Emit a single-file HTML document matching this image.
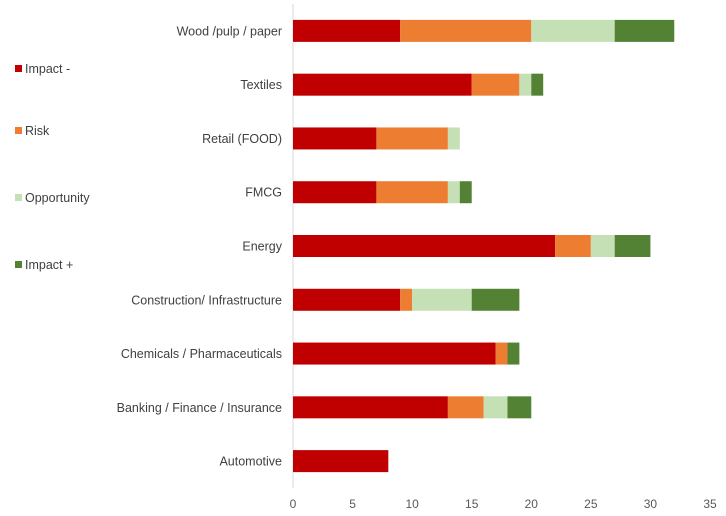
<!DOCTYPE html>
<html><head><meta charset="utf-8"><style>
html,body{margin:0;padding:0;background:#fff;}
svg{display:block;font-family:"Liberation Sans",sans-serif;}
</style></head><body>
<svg id="chart" width="726" height="516" viewBox="0 0 726 516"></svg>
<script>
const categories=["Wood /pulp / paper","Textiles","Retail (FOOD)","FMCG","Energy","Construction/ Infrastructure","Chemicals / Pharmaceuticals","Banking / Finance / Insurance","Automotive"];
const impactNeg=[9,15,7,7,22,9,17,13,8];
const risk=[11,4,6,6,3,1,1,3,0];
const opportunity=[7,1,1,1,2,5,0,2,0];
const impactPos=[5,1,0,1,3,4,1,2,0];
const xTicks=[0,5,10,15,20,25,30,35];
const seriesNames=["Impact -","Risk","Opportunity","Impact +"];
const colors=["#C00000","#ED7D31","#C5E0B4","#548235"];
const series=[impactNeg,risk,opportunity,impactPos];
const NS="http://www.w3.org/2000/svg";
const svgEl=document.getElementById('chart');
const x0=293,x1=710,yTop=4,yBottom=488;
const xs=v=>x0+v*(x1-x0)/35;
const band=(yBottom-yTop)/categories.length;
const yc=i=>yTop+band*(i+0.5);
const barH=22;
function el(t,a){const e=document.createElementNS(NS,t);for(const k in a)e.setAttribute(k,a[k]);svgEl.appendChild(e);return e;}
const ax=el('line',{x1:x0,x2:x0,y1:yTop,y2:yBottom,stroke:'#d9d9d9','stroke-width':1});


xTicks.forEach(t=>{const e=el('text',{x:xs(t),y:508,'text-anchor':'middle','font-size':12,fill:'#595959'});e.textContent=t;

});
categories.forEach((c,i)=>{
const e=el('text',{x:282,y:yc(i)+4.5,'text-anchor':'end','font-size':12.5,fill:'#404040'});e.textContent=c;


let acc=0;
series.forEach((s,k)=>{const v=s[i];if(v>0){const r=el('rect',{x:xs(acc),y:yc(i)-barH/2,width:xs(acc+v)-xs(acc),height:barH,fill:colors[k]});

}acc+=v;});
});
const ly=[69,131,198,265];
seriesNames.forEach((n,k)=>{
const r=el('rect',{x:15,y:ly[k]-4,width:7,height:7,fill:colors[k]});


const t=el('text',{x:25,y:ly[k]+4,'font-size':12.5,fill:'#404040'});t.textContent=n;


});
</script>
</body></html>
